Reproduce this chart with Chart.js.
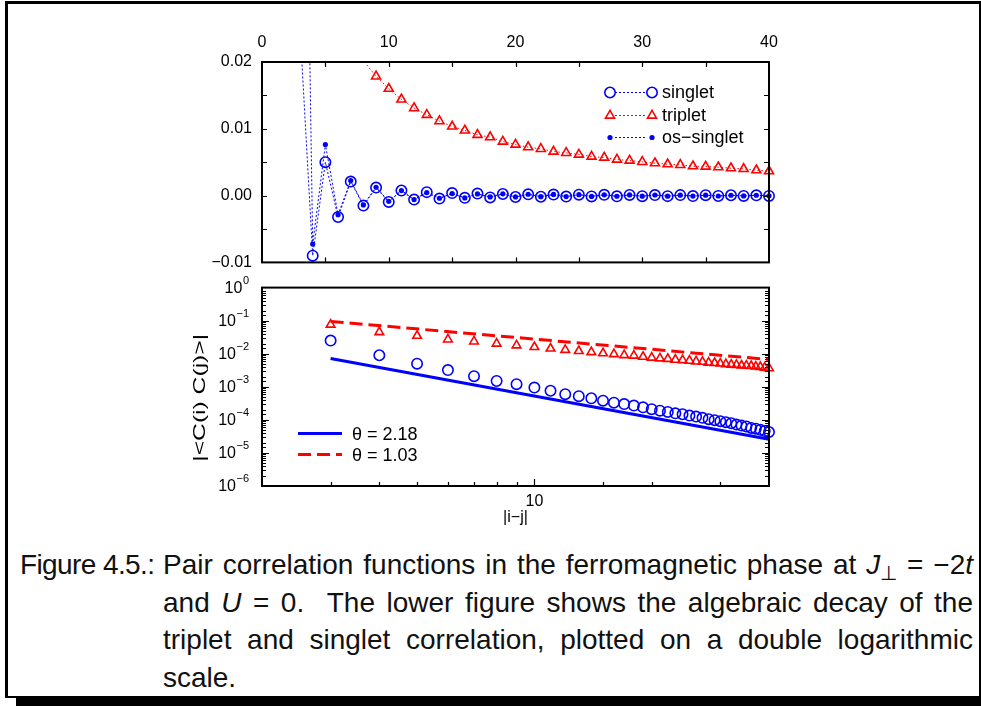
<!DOCTYPE html>
<html>
<head>
<meta charset="utf-8">
<script src="https://cdn.jsdelivr.net/npm/chart.js@4.4.1/dist/chart.umd.min.js"></script>
<style>
  body { margin: 0; background: #fff; width: 981px; height: 706px; position: relative; overflow: hidden;
         font-family: "Liberation Sans", Arial, sans-serif; }
  .frame { position: absolute; left: 5px; top: 1px; width: 976px; height: 697px; box-sizing: border-box;
           border-style: solid; border-color: #000; border-width: 3px 2px 2px 3px; }
  .shadow { position: absolute; left: 16px; top: 697px; width: 965px; height: 9px; background: #000; }
  .box { position: absolute; }
  .caption { position: absolute; font-size: 28px; line-height: 37.5px; color: #111; white-space: nowrap; }
  .caption .line { text-align: justify; text-align-last: justify; }
  .caption .line.last { text-align-last: left; }
  .caption sub { font-size: 0.7em; line-height: 0; vertical-align: -0.3em; }
</style>
</head>
<body>
<div class="frame"></div>
<div class="shadow"></div>
<div class="box" style="left:170px; top:30px;"><canvas id="topChart" width="630" height="252"></canvas></div>
<div class="box" style="left:170px; top:275px;"><canvas id="logChart" width="630" height="260"></canvas></div>

<div class="caption" style="left:20px; top:546px; letter-spacing:-0.6px;">Figure 4.5.:</div>
<div class="caption" style="left:163px; top:546px; width:810px;">
  <div class="line">Pair correlation functions in the ferromagnetic phase at <i>J</i><sub>⊥</sub> = −2<i>t</i></div>
  <div class="line">and <i>U</i> = 0.&nbsp; The lower figure shows the algebraic decay of the</div>
  <div class="line">triplet and singlet correlation, plotted on a double logarithmic</div>
  <div class="line last">scale.</div>
</div>

<script>
// distance |i-j|
const dist = [3, 4, 5, 6, 7, 8, 9, 10, 11, 12, 13, 14, 15, 16, 17, 18, 19, 20, 21, 22,
              23, 24, 25, 26, 27, 28, 29, 30, 31, 32, 33, 34, 35, 36, 37, 38, 39, 40];

// <C(i) C(j)> (singlet magnitude checked against the log plot)
const singlet = [0.025, -0.0090, 0.0050, -0.0032, 0.0021, -0.0015, 0.0012, -0.00095, 0.00076, -0.00060,
                 0.00052, -0.00045, 0.00038, -0.00033, 0.00030, -0.00027, 0.00024, -0.00021, 0.00019, -0.000174,
                 0.000158, -0.000148, 0.000135, -0.000126, 0.000115, -0.000105, 0.000098, -0.000091, 0.000085, -0.000079,
                 0.000072, -0.000067, 0.000063, -0.000057, 0.000054, -0.000050, 0.000046, -0.000043];
const triplet = [0.076, 0.045, 0.035, 0.027, 0.0235, 0.0202, 0.01785, 0.0160, 0.0144, 0.0131,
                 0.0121, 0.01115, 0.01035, 0.00975, 0.0091, 0.00875, 0.0081, 0.00765, 0.00725, 0.0070,
                 0.0066, 0.0064, 0.00615, 0.00585, 0.0057, 0.0054, 0.00525, 0.00505, 0.00485, 0.0047,
                 0.0046, 0.0044, 0.00435, 0.00425, 0.0041, 0.0040, 0.0038, 0.00365];
const osSinglet = [0.115, -0.00725, 0.00765, -0.00285, 0.00225, -0.0014, 0.00125, -0.00085, 0.00075, -0.0006,
                   0.00045, -0.0004, 0.0003, -0.00035, 0.00025, -0.0002, 0.00026, -0.0002, 0.0002, -0.00016,
                   0.00017, -0.00014, 0.00014, -0.00012, 0.00012, -0.0001, 0.0001, -0.00009, 0.00009, -0.00008,
                   0.00007, -0.00007, 0.00006, -0.00006, 0.00005, -0.00005, 0.00005, -0.00004];

// power law fits in the lower panel, end points
const fitX = [3, 40];
const fitSinglet = [0.0072, 0.000026];
const fitTriplet = [0.095, 0.0067];

const topLabels = ['singlet', 'triplet', 'os\u2212singlet'];
const fitLabels = ['\u03b8 = 2.18', '\u03b8 = 1.03'];
const xTitle = '|i\u2212j|';
const yTitle = '|<C(i) C(j)>|';

const BLUE = '#0000ff';
const RED = '#ff0000';
const FONT = '"Liberation Sans", Arial, sans-serif';

Chart.defaults.font.family = FONT;
Chart.defaults.font.size = 16;
Chart.defaults.color = '#000';

const pts = (xs, ys) => xs.map((x, i) => ({x: x, y: ys[i]}));
const TOP_MAX = 0.02;
// gnuplot does not draw markers that are outside the range
const hideAbove = r => c => (c.parsed && c.parsed.y > TOP_MAX) ? 0 : r;

function drawMarker(ctx, kind, x, y) {
    ctx.beginPath();
    if (kind === 'circle') {
        ctx.lineWidth = 1.6;
        ctx.arc(x, y, 5.2, 0, Math.PI * 2);
        ctx.stroke();
    } else if (kind === 'triangle') {
        ctx.lineWidth = 1.6;
        let r = 5.2, a = 0;
        ctx.moveTo(x + Math.sin(a) * r, y - Math.cos(a) * r);
        a += Math.PI * 2 / 3;
        ctx.lineTo(x + Math.sin(a) * r, y - Math.cos(a) * r);
        a += Math.PI * 2 / 3;
        ctx.lineTo(x + Math.sin(a) * r, y - Math.cos(a) * r);
        ctx.closePath();
        ctx.stroke();
    } else {
        ctx.arc(x, y, 2.6, 0, Math.PI * 2);
        ctx.fill();
    }
}

// inward ticks + frame, like gnuplot
function frameTicks(cfg) {
    return {
        id: 'frameTicks',
        afterDatasetsDraw(chart) {
            const {ctx, chartArea: a, scales} = chart;
            const isMajor = v => !cfg.log || Math.abs(Math.log10(v) - Math.round(Math.log10(v))) < 1e-9;
            ctx.save();
            ctx.strokeStyle = '#000';
            ctx.lineWidth = 1.2;
            ctx.beginPath();
            scales.x.ticks.forEach(t => {
                const px = Math.round(scales.x.getPixelForValue(t.value)) + 0.5;
                if (px < a.left + 2 || px > a.right - 2) return;
                const len = isMajor(t.value) ? cfg.major : cfg.minor;
                ctx.moveTo(px, a.bottom); ctx.lineTo(px, a.bottom - len);
                if (cfg.mirrorX) { ctx.moveTo(px, a.top); ctx.lineTo(px, a.top + len); }
            });
            scales.y.ticks.forEach(t => {
                const py = Math.round(scales.y.getPixelForValue(t.value)) + 0.5;
                if (py < a.top + 2 || py > a.bottom - 2) return;
                const len = isMajor(t.value) ? cfg.major : cfg.minor;
                ctx.moveTo(a.left, py); ctx.lineTo(a.left + len, py);
                ctx.moveTo(a.right, py); ctx.lineTo(a.right - len, py);
            });
            ctx.stroke();
            ctx.lineWidth = 2;
            ctx.strokeRect(a.left, a.top, a.right - a.left, a.bottom - a.top);
            ctx.restore();
        }
    };
}

const topLegend = {
    id: 'topLegend',
    afterDraw(chart) {
        const {ctx, chartArea: a} = chart;
        const x0 = a.right - 159, x1 = a.right - 117, tx = a.right - 107;
        const ys = [a.top + 30.5, a.top + 53.5, a.top + 75.5];
        const kinds = ['circle', 'triangle', 'dot'];
        ctx.save();
        ctx.font = '18px ' + FONT;
        ctx.textBaseline = 'middle';
        topLabels.forEach((label, i) => {
            const y = ys[i], color = i === 1 ? RED : BLUE;
            ctx.strokeStyle = color;
            ctx.fillStyle = color;
            ctx.lineWidth = 1;
            ctx.setLineDash([2, 2]);
            ctx.beginPath();
            ctx.moveTo(x0 + 5, y); ctx.lineTo(x1 - 5, y);
            ctx.stroke();
            ctx.setLineDash([]);
            drawMarker(ctx, kinds[i], x0, y);
            drawMarker(ctx, kinds[i], x1, y);
            ctx.fillStyle = '#000';
            ctx.fillText(label, tx, y + 1);
        });
        ctx.restore();
    }
};

const fitLegend = {
    id: 'fitLegend',
    afterDraw(chart) {
        const {ctx, chartArea: a} = chart;
        const x0 = a.left + 36, x1 = a.left + 80, tx = a.left + 90;
        const ys = [a.top + 146, a.top + 167];
        ctx.save();
        ctx.font = '18px ' + FONT;
        ctx.textBaseline = 'middle';
        fitLabels.forEach((label, i) => {
            ctx.strokeStyle = i === 0 ? BLUE : RED;
            ctx.lineWidth = 3;
            ctx.setLineDash(i === 0 ? [] : [13, 6]);
            ctx.beginPath();
            ctx.moveTo(x0, ys[i]); ctx.lineTo(x1, ys[i]);
            ctx.stroke();
            ctx.fillStyle = '#000';
            ctx.fillText(label, tx, ys[i] + 1);
        });
        ctx.restore();
    }
};

// rotated y title and 10^n labels for the log panel
const logLabels = {
    id: 'logLabels',
    afterDraw(chart) {
        const {ctx, chartArea: a, scales} = chart;
        ctx.save();
        ctx.fillStyle = '#000';
        ctx.textBaseline = 'middle';
        scales.y.ticks.forEach(t => {
            const e = Math.round(Math.log10(t.value));
            if (Math.abs(Math.log10(t.value) - e) > 1e-9) return;
            const py = scales.y.getPixelForValue(t.value);
            const exp = String(e).replace('-', '\u2212');
            ctx.font = '11px ' + FONT;
            const we = ctx.measureText(exp).width;
            ctx.textAlign = 'right';
            ctx.fillText(exp, a.left - 13, py - 7);
            ctx.font = '16px ' + FONT;
            ctx.fillText('10', a.left - 13 - we - 0.5, py + 1);
        });
        ctx.translate(a.left - 62, (a.top + a.bottom) / 2 + 11);
        ctx.rotate(-Math.PI / 2);
        ctx.scale(1.45, 1);
        ctx.font = '17px ' + FONT;
        ctx.textAlign = 'center';
        ctx.fillText(yTitle, 0, 0);
        ctx.restore();
    }
};

new Chart(document.getElementById('topChart'), {
    type: 'line',
    data: {
        datasets: [{
            label: topLabels[2],
            data: pts(dist, osSinglet),
            borderColor: BLUE,
            backgroundColor: BLUE,
            borderWidth: 1,
            borderDash: [2, 2],
            pointStyle: 'circle',
            pointRadius: hideAbove(2.6),
            pointBorderWidth: 0,
            clip: {left: 8, right: 8, top: 0, bottom: 8},
            order: 0
        }, {
            label: topLabels[0],
            data: pts(dist, singlet),
            borderColor: BLUE,
            backgroundColor: 'rgba(0,0,0,0)',
            borderWidth: 1,
            borderDash: [2, 2],
            pointStyle: 'circle',
            pointRadius: hideAbove(5.2),
            pointBorderWidth: 1.6,
            clip: {left: 8, right: 8, top: 0, bottom: 8},
            order: 1
        }, {
            label: topLabels[1],
            data: pts(dist, triplet),
            borderColor: RED,
            backgroundColor: 'rgba(0,0,0,0)',
            borderWidth: 1,
            borderDash: [1.5, 2.5],
            pointStyle: 'triangle',
            pointRadius: hideAbove(5.2),
            pointBorderWidth: 1.6,
            clip: {left: 8, right: 8, top: 0, bottom: 8},
            order: 2
        }]
    },
    options: {
        responsive: false,
        animation: false,
        events: [],
        layout: {padding: {top: 1, right: 31, bottom: 0, left: 0}},
        plugins: {legend: {display: false}, tooltip: {enabled: false}},
        scales: {
            x: {
                type: 'linear',
                position: 'top',
                min: 0,
                max: 40,
                grid: {display: false, drawTicks: false},
                border: {display: false},
                ticks: {
                    stepSize: 5,
                    autoSkip: false,
                    maxRotation: 0,
                    padding: 9.5,
                    callback: v => v % 10 === 0 ? String(v) : ''
                },
                afterFit: s => { s.height = 31; }
            },
            y: {
                min: -0.01,
                max: TOP_MAX,
                grid: {display: false, drawTicks: false},
                border: {display: false},
                ticks: {
                    stepSize: 0.005,
                    autoSkip: false,
                    padding: 10,
                    callback: v => Math.abs(v * 100 - Math.round(v * 100)) < 1e-6
                        ? v.toFixed(2).replace('-', '\u2212') : ''
                },
                afterFit: s => { s.width = 92; }
            }
        }
    },
    plugins: [frameTicks({mirrorX: true, major: 5, minor: 5}), topLegend]
});

new Chart(document.getElementById('logChart'), {
    type: 'line',
    data: {
        datasets: [{
            label: 'singlet',
            data: pts(dist, singlet.map(Math.abs)),
            showLine: false,
            borderColor: BLUE,
            backgroundColor: 'rgba(0,0,0,0)',
            pointStyle: 'circle',
            pointRadius: 5.2,
            pointBorderWidth: 1.6,
            clip: 8,
            order: 0
        }, {
            label: 'triplet',
            data: pts(dist, triplet),
            showLine: false,
            borderColor: RED,
            backgroundColor: 'rgba(0,0,0,0)',
            pointStyle: 'triangle',
            pointRadius: 5,
            pointBorderWidth: 1.6,
            clip: 8,
            order: 1
        }, {
            label: fitLabels[0],
            data: pts(fitX, fitSinglet),
            borderColor: BLUE,
            borderWidth: 3,
            pointRadius: 0,
            clip: 8,
            order: 2
        }, {
            label: fitLabels[1],
            data: pts(fitX, fitTriplet),
            borderColor: RED,
            borderWidth: 3,
            borderDash: [13, 6],
            pointRadius: 0,
            clip: 8,
            order: 3
        }]
    },
    options: {
        responsive: false,
        animation: false,
        events: [],
        layout: {padding: {top: 11, right: 31, bottom: 0, left: 0}},
        plugins: {legend: {display: false}, tooltip: {enabled: false}},
        scales: {
            x: {
                type: 'logarithmic',
                min: 2,
                max: 40,
                grid: {display: false, drawTicks: false},
                border: {display: false},
                ticks: {
                    autoSkip: false,
                    maxRotation: 0,
                    padding: 5.5,
                    callback: v => v === 10 ? '10' : ''
                },
                title: {display: true, text: xTitle, padding: {top: 0, bottom: 7.5}},
                afterFit: s => { s.height = 49; }
            },
            y: {
                type: 'logarithmic',
                min: 1e-6,
                max: 1,
                grid: {display: false, drawTicks: false},
                border: {display: false},
                ticks: {autoSkip: false, callback: () => ''},
                afterFit: s => { s.width = 92; }
            }
        }
    },
    plugins: [frameTicks({mirrorX: false, log: true, major: 7, minor: 4}), fitLegend, logLabels]
});
</script>
</body>
</html>
